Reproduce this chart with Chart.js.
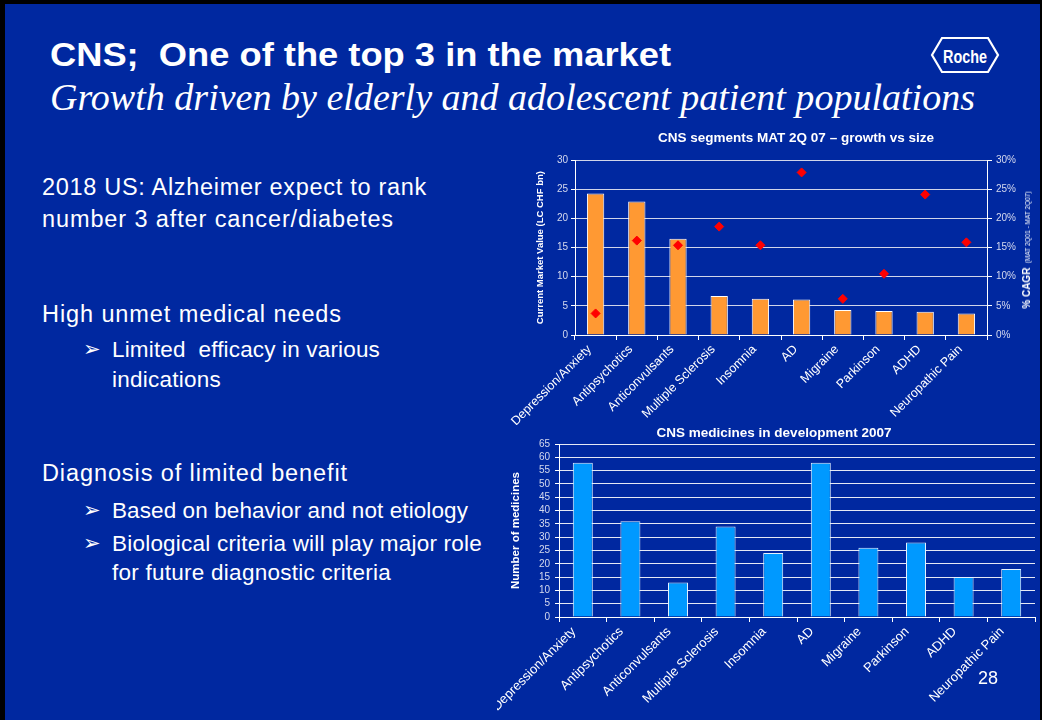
<!doctype html>
<html>
<head>
<meta charset="utf-8">
<title>CNS; One of the top 3 in the market</title>
<script src="https://cdn.jsdelivr.net/npm/chart.js"></script>
<style>
    html, body { margin: 0; padding: 0; width: 1042px; height: 720px; overflow: hidden; background: #000; }
    .slide { position: absolute; left: 5px; top: 4px; width: 1035px; height: 716px; background: #0028a0; }
    .txt { position: absolute; color: #fff; white-space: nowrap; line-height: 1; font-family: 'Liberation Sans', Arial, sans-serif; transform-origin: 0 0; }
    .head { font-size: 34px; font-weight: bold; }
    .sub { font-family: 'Liberation Serif', 'Times New Roman', serif; font-style: italic; font-size: 37px; }
    .l1 { font-size: 23.5px; }
    .l2 { font-size: 22.5px; }
    .arrow { position: absolute; color: #fff; font-family: 'DejaVu Sans', sans-serif; font-size: 21px; line-height: 1; }
    .chartbox { position: absolute; }
    #cagrTitle { position: absolute; left: 1025px; top: 250px; transform: translate(-50%, -50%) rotate(-90deg); color: #fff; white-space: nowrap; font-family: 'Liberation Sans', Arial, sans-serif; }
    #pageNo { position: absolute; left: 978px; top: 669px; color: #fff; font-family: 'Liberation Sans', Arial, sans-serif; font-size: 18px; line-height: 1; }
</style>
</head>
<body>
<div class="slide"></div>

<span class="txt head" id="head" style="left:50px; top:37px;" data-w="621">CNS;&nbsp; One of the top 3 in the market</span>
<span class="txt sub" id="subhead" style="left:50px; top:79px;" data-w="925">Growth driven by elderly and adolescent patient populations</span>

<svg style="position:absolute; left:930px; top:36px;" width="72" height="40">
    <polygon points="2,19 12,2 58,2 68,19 58,36 12,36" fill="none" stroke="#fff" stroke-width="2.2"/>
    <text x="35" y="27" fill="#fff" text-anchor="middle" font-family="Liberation Sans, Arial, sans-serif" font-weight="bold" font-size="18" textLength="44" lengthAdjust="spacingAndGlyphs">Roche</text>
</svg>

<span class="txt l1 fit" style="left:42px; top:176px;" data-w="385">2018 US: Alzheimer expect to rank</span>
<span class="txt l1 fit" style="left:42px; top:208px;" data-w="352">number 3 after cancer/diabetes</span>
<span class="txt l1 fit" style="left:42px; top:303px;" data-w="300">High unmet medical needs</span>
<span class="arrow" style="left:83px; top:339px;">&#10146;</span>
<span class="txt l2 fit" style="left:112px; top:339px;" data-w="268">Limited&nbsp; efficacy in various</span>
<span class="txt l2 fit" style="left:112px; top:369px;" data-w="109">indications</span>
<span class="txt l1 fit" style="left:42px; top:462px;" data-w="306">Diagnosis of limited benefit</span>
<span class="arrow" style="left:83px; top:500px;">&#10146;</span>
<span class="txt l2 fit" style="left:112px; top:500px;" data-w="356">Based on behavior and not etiology</span>
<span class="arrow" style="left:83px; top:533px;">&#10146;</span>
<span class="txt l2 fit" style="left:112px; top:533px;" data-w="370">Biological criteria will play major role</span>
<span class="txt l2 fit" style="left:112px; top:562px;" data-w="279">for future diagnostic criteria</span>

<div class="chartbox" style="left:505px; top:125px;">
    <canvas id="segChart" width="552" height="300"></canvas>
</div>
<div id="cagrTitle"><b style="font-size:10px;">% CAGR</b> <span style="font-size:6.5px;">(MAT 2Q01 - MAT 2Q07)</span></div>

<div class="chartbox" style="left:497px; top:420px;">
    <canvas id="devChart" width="545" height="300"></canvas>
</div>
<div id="pageNo">28</div>

<script>
    const categories = ['Depression/Anxiety', 'Antipsychotics', 'Anticonvulsants', 'Multiple Sclerosis',
        'Insomnia', 'AD', 'Migraine', 'Parkinson', 'ADHD', 'Neuropathic Pain'];
    // current market value, LC CHF bn
    const marketValue = [24.3, 22.9, 16.5, 6.7, 6.2, 6.1, 4.3, 4.1, 4.0, 3.7];
    // % CAGR MAT 2Q01 - MAT 2Q07
    const cagrPct = [3.7, 16.2, 15.4, 18.6, 15.4, 27.9, 6.2, 10.5, 24.1, 15.9];
    // number of medicines in development 2007
    const medicinesInDev = [58, 36, 13, 34, 24, 58, 26, 28, 15, 18];

    const valueMax = 30, valueStep = 5;
    const cagrMax = 30, cagrStep = 5;
    const devMax = 65, devStep = 5;

    // text widths from the slide
    function fitScale(el) {
        const w = el.getBoundingClientRect().width;
        el.style.transform = 'scaleX(' + (el.dataset.w / w) + ')';
    }
    function fitLetters(el) {
        const w = el.getBoundingClientRect().width;
        const n = el.textContent.length;
        el.style.letterSpacing = ((el.dataset.w - w) / n) + 'px';
    }
    fitScale(document.getElementById('head'));
    fitScale(document.getElementById('subhead'));
    document.querySelectorAll('.fit').forEach(fitLetters);

    Chart.defaults.font.family = "'Liberation Sans', Arial, sans-serif";

    const tickGrey = '#d4d9ee';

    new Chart(document.getElementById('segChart'), {
        type: 'bar',
        data: {
            labels: categories,
            datasets: [{
                type: 'line',
                label: '% CAGR',
                data: cagrPct,
                yAxisID: 'y1',
                showLine: false,
                pointStyle: 'rectRot',
                pointRadius: 4.5,
                backgroundColor: '#ff0000',
                borderColor: '#ff0000',
                order: 0
            }, {
                type: 'bar',
                label: 'Current Market Value',
                data: marketValue,
                yAxisID: 'y',
                backgroundColor: '#ff9933',
                borderColor: '#ffffff',
                borderWidth: 1,
                barPercentage: 0.42,
                categoryPercentage: 1,
                order: 1
            }]
        },
        options: {
            responsive: false,
            animation: false,
            layout: { padding: { left: 30 } },
            plugins: {
                legend: { display: false },
                tooltip: { enabled: false },
                title: {
                    display: true,
                    text: 'CNS segments MAT 2Q 07 \u2013 growth vs size',
                    color: '#fff',
                    font: { size: 13.5, weight: 'bold' },
                    padding: { top: 5, bottom: 14 }
                }
            },
            scales: {
                x: {
                    grid: { offset: true, drawOnChartArea: false, tickLength: 5, tickColor: '#fff' },
                    border: { color: '#fff' },
                    ticks: { color: '#fff', font: { size: 12.5 }, minRotation: 45, maxRotation: 45, autoSkip: false, padding: 2, labelOffset: -6 },
                    afterFit: s => { s.height = 90; s.paddingLeft = 0; s.paddingRight = 0; }
                },
                y: {
                    position: 'left',
                    min: 0, max: valueMax,
                    grid: { color: '#d0d5ea', tickLength: 4, tickColor: '#fff' },
                    border: { color: '#fff' },
                    ticks: { stepSize: valueStep, autoSkip: false, color: tickGrey, font: { size: 10 }, padding: 3 },
                    title: { display: true, text: 'Current Market Value (LC CHF bn)', color: '#fff', font: { size: 9.5, weight: 'bold' }, padding: 0 },
                    afterFit: s => { s.width = 40; }
                },
                y1: {
                    position: 'right',
                    min: 0, max: cagrMax,
                    grid: { drawOnChartArea: false, tickLength: 5, tickColor: '#fff' },
                    border: { color: '#fff' },
                    ticks: { stepSize: cagrStep, autoSkip: false, color: tickGrey, font: { size: 10 }, padding: 4, callback: v => v + '%' },
                    afterFit: s => { s.width = 70; }
                }
            }
        }
    });

    new Chart(document.getElementById('devChart'), {
        type: 'bar',
        data: {
            labels: categories,
            datasets: [{
                label: 'Number of medicines',
                data: medicinesInDev,
                backgroundColor: '#0099ff',
                borderColor: '#e4f2ff',
                borderWidth: 1,
                barPercentage: 0.42,
                categoryPercentage: 1
            }]
        },
        options: {
            responsive: false,
            animation: false,
            layout: { padding: { left: 16, right: 7 } },
            plugins: {
                legend: { display: false },
                tooltip: { enabled: false },
                title: {
                    display: true,
                    text: 'CNS medicines in development 2007',
                    color: '#fff',
                    font: { size: 13.5, weight: 'bold' },
                    padding: { top: 5, bottom: 2.8 }
                }
            },
            scales: {
                x: {
                    grid: { offset: true, drawOnChartArea: false, tickLength: 5, tickColor: '#fff' },
                    border: { color: '#fff' },
                    ticks: { color: '#fff', font: { size: 13 }, minRotation: 45, maxRotation: 45, autoSkip: false, padding: 2, labelOffset: -9 },
                    afterFit: s => { s.height = 103; s.paddingLeft = 0; s.paddingRight = 0; }
                },
                y: {
                    min: 0, max: devMax,
                    grid: { color: '#e6e9f5', tickLength: 4, tickColor: '#fff' },
                    border: { color: '#fff' },
                    ticks: { stepSize: devStep, autoSkip: false, color: tickGrey, font: { size: 10 }, padding: 5 },
                    title: { display: true, text: 'Number of medicines', color: '#fff', font: { size: 11.5, weight: 'bold' }, padding: { top: -4, bottom: 0 } },
                    afterFit: s => { s.width = 46; }
                }
            }
        }
    });
</script>
</body>
</html>
